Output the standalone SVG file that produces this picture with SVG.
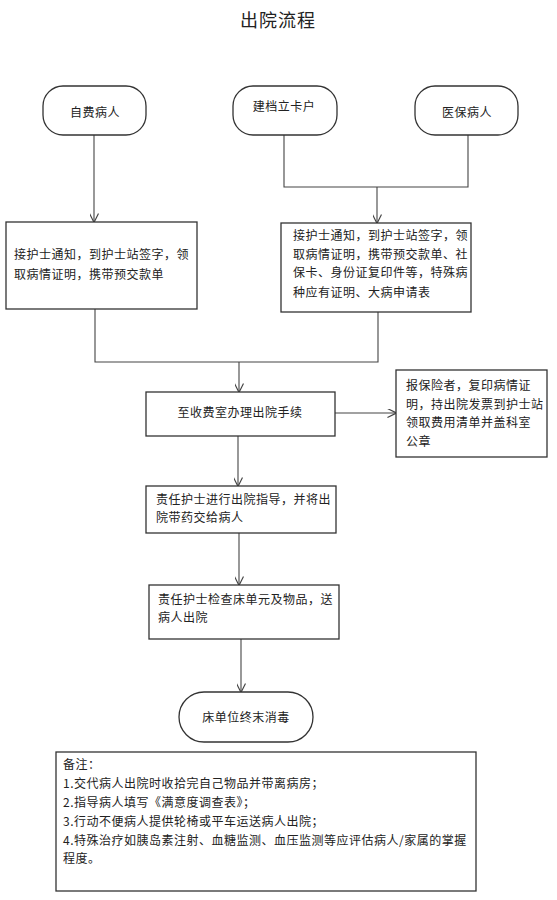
<svg xmlns="http://www.w3.org/2000/svg" width="557" height="900" viewBox="0 0 557 900">
<style>
  text { font-family: "Noto Sans CJK SC", "Noto Sans", sans-serif; font-size: 12px; fill: #222; letter-spacing: 0.5px; }
  .title { font-size: 18px; letter-spacing: 1px; fill: #222; }
  .node { fill: #fff; stroke: #333; stroke-width: 1.3; }
  .conn { fill: none; stroke: #444; stroke-width: 1.1; }
</style>
<defs>
  <marker id="arr" viewBox="0 0 10 10" refX="9.5" refY="5" markerWidth="9" markerHeight="9" markerUnits="userSpaceOnUse" orient="auto">
    <path d="M0,0 L10,5 L0,10" fill="none" stroke="#444" stroke-width="1.3"/>
  </marker>
</defs>
<rect width="557" height="900" fill="#fff"/>
<text class="title" x="278" y="27" text-anchor="middle">出院流程</text>

<g id="connectors">
  <line class="conn" x1="94" y1="135" x2="94" y2="222" marker-end="url(#arr)"/>
  <polyline class="conn" points="284,135 284,187 468,187 468,135"/>
  <line class="conn" x1="377" y1="187" x2="377" y2="223" marker-end="url(#arr)"/>
  <polyline class="conn" points="95,309 95,362 378,362 378,312"/>
  <line class="conn" x1="239" y1="362" x2="239" y2="392" marker-end="url(#arr)"/>
  <line class="conn" x1="335" y1="413" x2="396" y2="413" marker-end="url(#arr)"/>
  <line class="conn" x1="238" y1="436" x2="238" y2="486" marker-end="url(#arr)"/>
  <line class="conn" x1="239" y1="533" x2="239" y2="585" marker-end="url(#arr)"/>
  <line class="conn" x1="241" y1="639" x2="241" y2="692" marker-end="url(#arr)"/>
</g>

<g id="n-zifei">
  <rect class="node" x="43" y="86" width="103" height="49" rx="20"/>
  <text x="95" y="117" text-anchor="middle">自费病人</text>
</g>
<g id="n-jiandang">
  <rect class="node" x="233" y="86" width="104" height="49" rx="20"/>
  <text x="284" y="111" text-anchor="middle">建档立卡户</text>
</g>
<g id="n-yibao">
  <rect class="node" x="415" y="86" width="103" height="49" rx="20"/>
  <text x="467" y="117" text-anchor="middle">医保病人</text>
</g>

<g id="n-box1">
  <rect class="node" x="6" y="222" width="191" height="87"/>
  <text x="14" y="259">接护士通知，到护士站签字，领</text>
  <text x="14" y="279">取病情证明，携带预交款单</text>
</g>
<g id="n-box2">
  <rect class="node" x="281" y="223" width="190" height="89"/>
  <text x="293" y="240">接护士通知，到护士站签字，领</text>
  <text x="293" y="259">取病情证明，携带预交款单、社</text>
  <text x="293" y="277">保卡、身份证复印件等，特殊病</text>
  <text x="293" y="297">种应有证明、大病申请表</text>
</g>
<g id="n-box3">
  <rect class="node" x="146" y="392" width="189" height="44"/>
  <text x="240" y="417" text-anchor="middle">至收费室办理出院手续</text>
</g>
<g id="n-side">
  <rect class="node" x="396" y="370" width="151" height="87"/>
  <text x="406" y="390" letter-spacing="1.3">报保险者，复印病情证</text>
  <text x="406" y="409" letter-spacing="0.6">明，持出院发票到护士站</text>
  <text x="406" y="427" letter-spacing="1.3">领取费用清单并盖科室</text>
  <text x="406" y="446" letter-spacing="1.3">公章</text>
</g>
<g id="n-box4">
  <rect class="node" x="146" y="486" width="190" height="47"/>
  <text x="156" y="504">责任护士进行出院指导，并将出</text>
  <text x="156" y="522">院带药交给病人</text>
</g>
<g id="n-box5">
  <rect class="node" x="149" y="585" width="190" height="54"/>
  <text x="158" y="604">责任护士检查床单元及物品，送</text>
  <text x="158" y="622">病人出院</text>
</g>
<g id="n-end">
  <rect class="node" x="179" y="692" width="134" height="50" rx="25"/>
  <text x="246" y="722" text-anchor="middle">床单位终末消毒</text>
</g>
<g id="n-notes">
  <rect class="node" x="56" y="752" width="420" height="139"/>
  <text x="63" y="769">备注：</text>
  <text x="63" y="788">1.交代病人出院时收拾完自己物品并带离病房；</text>
  <text x="63" y="807">2.指导病人填写《满意度调查表》；</text>
  <text x="63" y="826">3.行动不便病人提供轮椅或平车运送病人出院；</text>
  <text x="63" y="845">4.特殊治疗如胰岛素注射、血糖监测、血压监测等应评估病人/家属的掌握</text>
  <text x="63" y="863">程度。</text>
</g>
</svg>
